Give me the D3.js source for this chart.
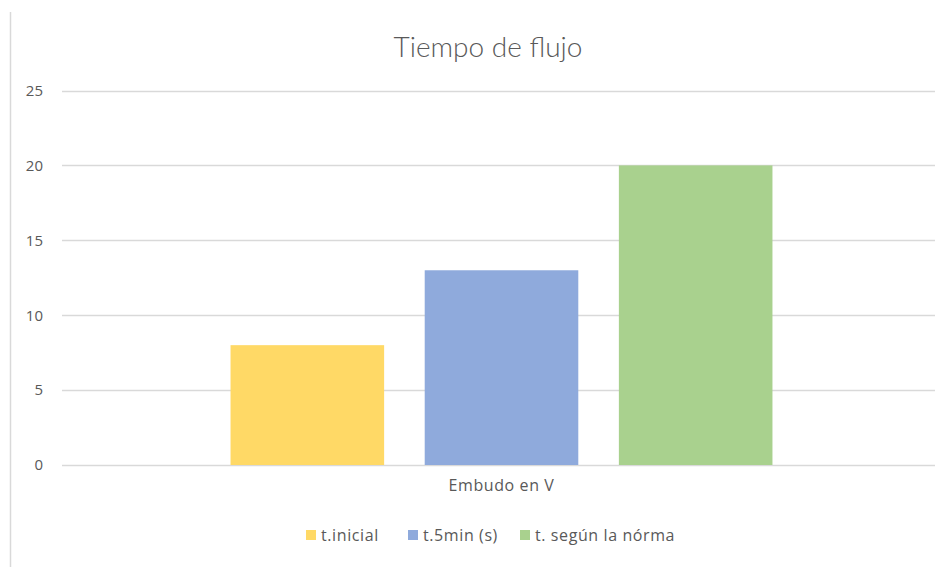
<!DOCTYPE html>
<html>
<head>
<meta charset="utf-8">
<script src="https://cdn.jsdelivr.net/npm/d3@7"></script>
<style>
  body { margin: 0; background: #fff; }
</style>
</head>
<body>
<div id="chart"></div>
<script>
// Data
const categories = ["Embudo en V"];
const seriesNames = ["t.inicial", "t.5min (s)", "t. según la nórma"];
const seriesValues = [8, 13, 20];
const seriesColors = ["#FFD966", "#8FAADC", "#A9D18E"];
const yTicks = [0, 5, 10, 15, 20, 25];

// Width and height of the page
const width = 935;
const height = 567;

const svg = d3.select("#chart")
    .append("svg")
    .attr("width", width)
    .attr("height", height)
    .style("background-color", "#ffffff");

// left border of the chart area
svg.append("line")
    .attr("x1", 10.5).attr("x2", 10.5)
    .attr("y1", 12).attr("y2", height)
    .attr("stroke", "#d9d9d9")
    .attr("stroke-width", 1.5);

const plot = { left: 62, right: 941, top: 90.5, bottom: 465 };

const y = d3.scaleLinear()
    .domain([0, 25])
    .range([plot.bottom, plot.top]);

const x = d3.scaleBand()
    .domain(categories)
    .range([plot.left, plot.right])
    .paddingOuter(0.311)
    .paddingInner(0);

const xInner = d3.scaleBand()
    .domain(seriesNames)
    .range([0, x.bandwidth()])
    .paddingInner(0.209)
    .paddingOuter(0);

// gridlines
svg.append("g")
    .selectAll("line")
    .data(yTicks)
    .enter()
    .append("line")
    .attr("x1", plot.left)
    .attr("x2", plot.right)
    .attr("y1", d => Math.round(y(d)) + 0.5)
    .attr("y2", d => Math.round(y(d)) + 0.5)
    .attr("stroke", "#d9d9d9")
    .attr("stroke-width", 1.3);

// y axis labels
const yAxis = d3.axisLeft(y)
    .tickValues(yTicks)
    .tickSize(0)
    .tickPadding(0);

svg.append("g")
    .attr("transform", "translate(43,0)")
    .call(yAxis)
    .call(g => g.select(".domain").remove())
    .selectAll("text")
    .attr("fill", "#595959")
    .style("font-family", "'Open Sans', sans-serif")
    .style("font-size", "15px");

// bars
svg.append("g")
    .selectAll("rect")
    .data(seriesValues)
    .enter()
    .append("rect")
    .attr("x", (d, i) => x(categories[0]) + xInner(seriesNames[i]))
    .attr("y", d => y(d))
    .attr("width", xInner.bandwidth())
    .attr("height", d => y(0) - y(d))
    .attr("fill", (d, i) => seriesColors[i]);

// category axis
const xAxis = d3.axisBottom(x).tickSize(0).tickPadding(0);
svg.append("g")
    .attr("transform", "translate(0,480)")
    .call(xAxis)
    .call(g => g.select(".domain").remove())
    .selectAll("text")
    .attr("fill", "#595959")
    .style("font-family", "'Open Sans', sans-serif")
    .style("font-size", "16px")
    .style("letter-spacing", "0.6px");

// title
svg.append("text")
    .attr("x", 488)
    .attr("y", 57)
    .attr("text-anchor", "middle")
    .attr("fill", "#595959")
    .style("font-family", "Lato, sans-serif")
    .style("font-weight", 300)
    .style("font-size", "28px")
    .text("Tiempo de flujo");

// legend
const legendX = [306, 408, 520];
const legend = svg.append("g")
    .selectAll("g")
    .data(seriesNames)
    .enter()
    .append("g")
    .attr("transform", (d, i) => "translate(" + legendX[i] + ",530)");

legend.append("rect")
    .attr("width", 10)
    .attr("height", 10)
    .attr("fill", (d, i) => seriesColors[i]);

legend.append("text")
    .attr("x", 15)
    .attr("y", 10.5)
    .attr("fill", "#595959")
    .style("font-family", "'Open Sans', sans-serif")
    .style("font-size", "16px")
    .style("letter-spacing", "0.6px")
    .text(d => d);
</script>
</body>
</html>
